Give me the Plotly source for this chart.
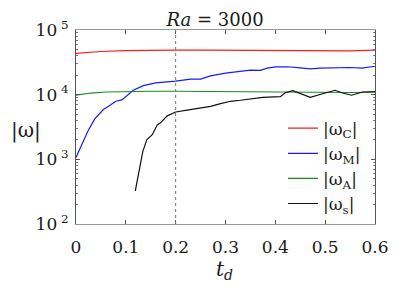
import plotly.graph_objects as go

# ---- data ----
t_C = [0.0, 0.05, 0.1, 0.15, 0.2, 0.25, 0.3, 0.35, 0.4, 0.45, 0.5, 0.55, 0.6]
w_C = [43600, 46500, 48000, 48800, 49000, 48800, 48500, 48300, 48000, 47700, 47400, 47500, 49000]

t_M = [0.0, 0.012, 0.024, 0.038, 0.055, 0.069, 0.08, 0.092, 0.105, 0.115, 0.135, 0.16, 0.2, 0.23, 0.25,
       0.27, 0.3, 0.33, 0.35, 0.37, 0.384, 0.4, 0.425, 0.45, 0.47, 0.49, 0.52, 0.55, 0.574, 0.6]
w_M = [1070, 1700, 2750, 4250, 5900, 6900, 7900, 8300, 10000, 11700, 13800, 15200, 16200, 17400, 17400,
       19500, 21600, 22800, 24000, 23800, 25700, 26900, 27000, 26000, 25100, 25700, 26300, 26300, 25700, 27500]

t_A = [0.0, 0.03, 0.06, 0.1, 0.15, 0.2, 0.25, 0.3, 0.35, 0.4, 0.45, 0.5, 0.55, 0.6]
w_A = [9800, 10600, 11000, 11200, 11300, 11300, 11200, 11100, 11000, 10900, 10800, 10800, 10800, 10900]

t_s = [0.119, 0.134, 0.142, 0.153, 0.163, 0.17, 0.183, 0.2, 0.223, 0.25, 0.27, 0.29, 0.31, 0.33, 0.35,
       0.375, 0.41, 0.42, 0.435, 0.45, 0.47, 0.5, 0.52, 0.535, 0.553, 0.575, 0.6]
w_s = [325, 1320, 2000, 2400, 3400, 3700, 4700, 5400, 5750, 6150, 6600, 7250, 7900, 8200, 8500,
       9100, 9300, 10700, 11500, 10300, 9100, 10600, 11700, 10600, 9800, 11000, 11200]

x_ticks = [0, 0.1, 0.2, 0.3, 0.4, 0.5, 0.6]
x_ticktext = ["0", "0.1", "0.2", "0.3", "0.4", "0.5", "0.6"]
y_ticks = [100, 1000, 10000, 100000]
y_ticktext = ["10<sup>&nbsp;2</sup>", "10<sup>&nbsp;3</sup>", "10<sup>&nbsp;4</sup>", "10<sup>&nbsp;5</sup>"]

series = [
    (t_C, w_C, "|ω<sub>C</sub>|", "#ff1a1a"),
    (t_M, w_M, "|ω<sub>M</sub>|", "#1a1aff"),
    (t_A, w_A, "|ω<sub>A</sub>|", "#1a8c1a"),
    (t_s, w_s, "|ω<sub>s</sub>|", "#111111"),
]

FONT = "DejaVu Serif"
TXT = "#1a1a1a"

fig = go.Figure()
for x, y, name, col in series:
    fig.add_trace(go.Scatter(x=x, y=y, mode="lines", name=name,
                             line=dict(color=col, width=1.2)))

fig.add_shape(type="line", xref="x", yref="paper", x0=0.2, x1=0.2, y0=0, y1=1,
              line=dict(color="#777777", width=1, dash="dot"))

# page is offset by the 8px body margin, so margins are compensated
fig.update_layout(
    width=399, height=300,
    margin=dict(l=68, r=32, t=22, b=84),
    plot_bgcolor="white", paper_bgcolor="white",
    font=dict(family=FONT, size=16, color=TXT),
    title=dict(text="<i>Ra</i> = 3000", x=0.519, xanchor="center", y=0.962, yanchor="middle",
               font=dict(family=FONT, size=18, color=TXT)),
    showlegend=True,
    legend=dict(x=0.97, y=0.012, xanchor="right", yanchor="bottom",
                bgcolor="rgba(0,0,0,0)", borderwidth=0, tracegroupgap=0,
                font=dict(family=FONT, size=17, color=TXT),
                itemwidth=30),
    annotations=[
        dict(text="|ω|", xref="paper", yref="paper", x=-0.225, y=0.48,
             xanchor="left", yanchor="middle", showarrow=False,
             font=dict(family=FONT, size=20, color=TXT)),
        dict(text="<i>t<sub>d</sub></i>", xref="paper", yref="paper", x=0.498, y=-0.235,
             xanchor="center", yanchor="middle", showarrow=False,
             font=dict(family=FONT, size=20, color=TXT)),
    ],
)

fig.update_xaxes(
    range=[0, 0.6], tickvals=x_ticks, ticktext=x_ticktext,
    ticks="inside", ticklen=4, tickcolor="#555555",
    tickfont=dict(family=FONT, size=17, color=TXT), ticklabelstandoff=8,
    showline=True, linecolor="#999999", linewidth=1, mirror="ticks",
    showgrid=False, zeroline=False, automargin=False,
)
fig.update_yaxes(
    type="log", range=[2, 5], tickvals=y_ticks, ticktext=y_ticktext,
    ticks="inside", ticklen=4, tickcolor="#555555",
    tickfont=dict(family=FONT, size=17, color=TXT), ticklabelstandoff=3,
    minor=dict(ticks="inside", ticklen=2, tickcolor="#777777", dtick="D1"),
    showline=True, linecolor="#555555", linewidth=1, mirror="ticks",
    showgrid=False, zeroline=False, automargin=False,
)

fig.write_html("out.html")
